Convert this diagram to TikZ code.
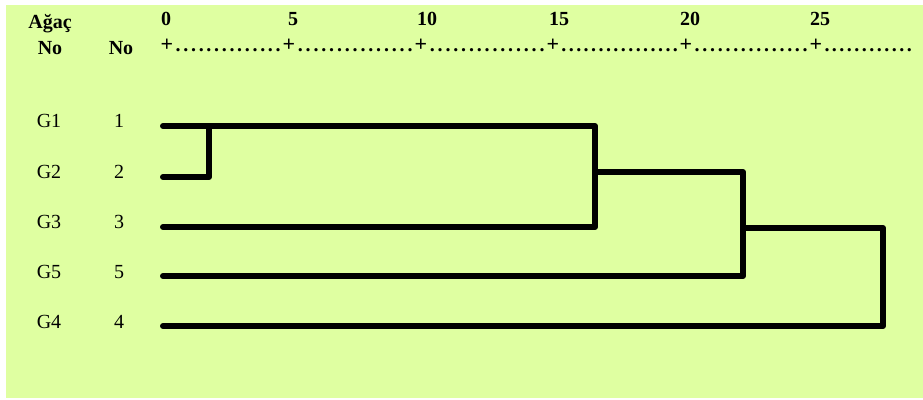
\documentclass[tikz,border=0pt]{standalone}
\usepackage{fontspec}
\setmainfont{Liberation Serif}
% a run of evenly spaced dots filling a box of the given width
\newcommand\dotrun[1]{\hbox to #1{\xleaders\hbox to 7.4pt{\hss.\hss}\hfill}}
\definecolor{panel}{HTML}{DFFFA1}
\begin{document}
\begin{tikzpicture}[x=1pt,y=-1pt,
  lbl/.style={font=\fontsize{20}{24}\selectfont, inner sep=0pt, anchor=base},
  hdr/.style={lbl, font=\fontsize{20}{24}\selectfont\bfseries},
  tick/.style={lbl, font=\fontsize{22}{26}\selectfont\bfseries},
  dots/.style={hdr, anchor=base west},
  branch/.style={line width=6pt, line cap=round, line join=round}]
\useasboundingbox (0,0) rectangle (923,399);
\fill[panel] (6,5) rectangle (923,398);

% column headers
\node[hdr] (hAgac) at (50,28) {Ağaç};
\node[hdr] (hNo1) at (50,54) {No};
\node[hdr] (hNo2) at (121,54) {No};

% distance scale
\node[hdr] (s0)  at (166,25) {0};
\node[hdr] (s5)  at (293,25) {5};
\node[hdr] (s10) at (427,25) {10};
\node[hdr] (s15) at (559,25) {15};
\node[hdr] (s20) at (690,25) {20};
\node[hdr] (s25) at (820,25) {25};

\node[tick] (p0) at (167,51) {+};
\node[tick] (p1) at (289,51) {+};
\node[tick] (p2) at (421,51) {+};
\node[tick] (p3) at (553,51) {+};
\node[tick] (p4) at (686,51) {+};
\node[tick] (p5) at (816,51) {+};
\node[dots] (d0) at (174,51) {\dotrun{108pt}};
\node[dots] (d1) at (296,51) {\dotrun{118pt}};
\node[dots] (d2) at (428,51) {\dotrun{118pt}};
\node[dots] (d3) at (560,51) {\dotrun{119pt}};
\node[dots] (d4) at (693,51) {\dotrun{116pt}};
\node[dots] (d5) at (823,51) {\dotrun{90pt}};

% case labels
\node[lbl] (g1) at (49,127) {G1}; \node[lbl] (n1) at (119,127) {1};
\node[lbl] (g2) at (49,178) {G2}; \node[lbl] (n2) at (119,178) {2};
\node[lbl] (g3) at (49,228) {G3}; \node[lbl] (n3) at (119,228) {3};
\node[lbl] (g5) at (49,278) {G5}; \node[lbl] (n5) at (119,278) {5};
\node[lbl] (g4) at (49,328) {G4}; \node[lbl] (n4) at (119,328) {4};

% leaves
\coordinate (l1) at (163,126);
\coordinate (l2) at (163,177);
\coordinate (l3) at (163,227);
\coordinate (l5) at (163,276);
\coordinate (l4) at (163,326);

% merge points
\coordinate (k12) at (209,126);
\coordinate (t3) at (595,126);
\coordinate (c3) at (595,172);
\coordinate (t5) at (743,172);
\coordinate (c5) at (743,228);
\coordinate (t4) at (883,228);

% dendrogram
\draw[branch] (l2) -| (k12);
\draw[branch] (l1) -- (t3) |- (l3);
\draw[branch] (c3) -- (t5) |- (l5);
\draw[branch] (c5) -- (t4) |- (l4);
\end{tikzpicture}
\end{document}
